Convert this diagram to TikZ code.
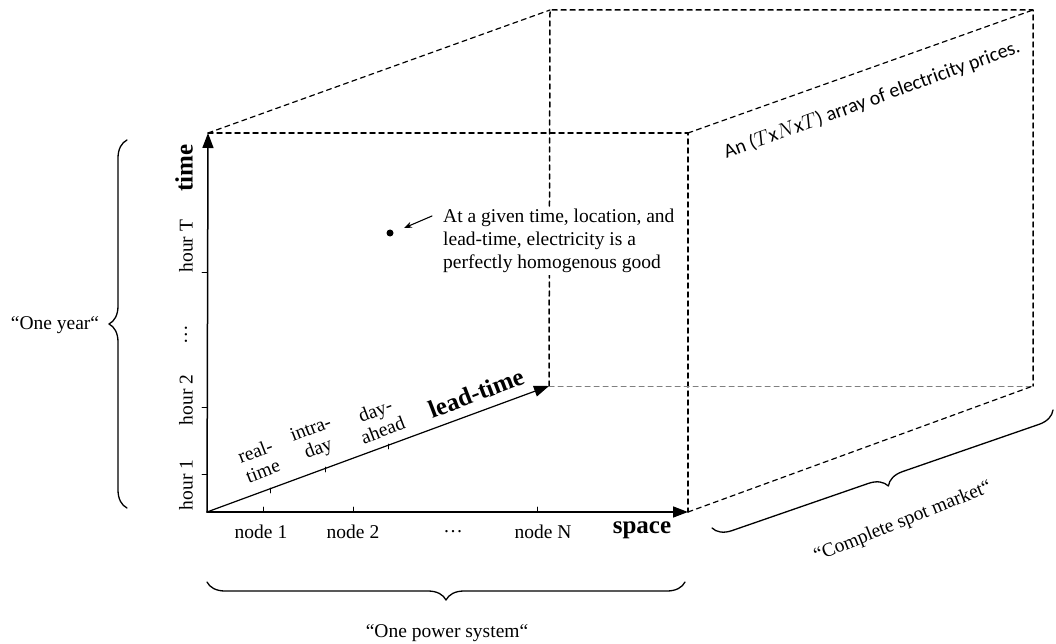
\documentclass[tikz,border=0pt]{standalone}
\usepackage{fontspec}
\setmainfont{Liberation Serif}
\newfontfamily\calib{Carlito}
\usetikzlibrary{arrows.meta}
\usetikzlibrary{decorations.pathreplacing}

\begin{document}
\begin{tikzpicture}[line cap=round,line join=round,>={Triangle[length=15pt,width=11pt]},x=1pt,y=-1pt,
  axis/.style={->,line width=1.5pt},
  cubeedge/.style={line width=1.5pt,dash pattern=on 5pt off 4pt},
  tick/.style={line width=0.8pt},
  lbl/.style={font=\fontsize{19.5}{23}\selectfont},
  bold/.style={font=\fontsize{25}{28}\selectfont\bfseries},
  curly/.style={decorate,decoration={brace,amplitude=18pt},line width=1.3pt}]
\useasboundingbox (0,0) rectangle (1056,644);
% corners of the cube
\coordinate (O) at (207,512);
\coordinate (T) at (208,133);
\coordinate (S) at (688,512);
\coordinate (L) at (549,386);
\coordinate (F) at (688,133);
\coordinate (BTL) at (550,10);
\coordinate (BTR) at (1033,10);
\coordinate (BBR) at (1033,386);
\draw [cubeedge] (T)--(F)--(S);
\draw [cubeedge] (L)--(BTL)--(BTR)--(BBR);
\draw [cubeedge,line width=1pt,gray] (L)--(BBR);
\draw [cubeedge,line width=1.2pt] (T)--(BTL);
\draw [cubeedge,line width=1.2pt] (F)--(BTR);
\draw [cubeedge,line width=1.2pt] (S)--(BBR);
% axes
\draw [axis] (O)--(T);
\draw [axis] (O)--(S);
\draw [axis,line width=1.2pt] (O)--(L);
% ticks
\foreach \y in {474,407,272} \draw [tick] (207,\y)--(202,\y);
\foreach \x in {263,353,537} \draw [tick] (\x,512)--(\x,507);
\draw [tick] (270,488)--(270,493);
\draw [tick] (325,467)--(325,472);
\draw [tick] (388,444)--(388,449);
% time labels
\node[lbl,rotate=90] (h1) at (186,485) {hour 1};
\node[lbl,rotate=90] (h2) at (186,400) {hour 2};
\node[lbl,rotate=90] (hd) at (186,335) {\dots};
\node[lbl,rotate=90] (hT) at (186,246) {hour T};
\node[bold,rotate=90] (time) at (184,168) {time};
% space labels
\node[lbl] (n1) at (261,532) {node 1};
\node[lbl] (n2) at (353,532) {node 2};
\node[lbl] (nd) at (453,532) {\dots};
\node[lbl] (nN) at (543,532) {node N};
\node[bold] (space) at (642,530) {space};
% lead-time labels
\node[lbl,rotate=21,align=center,font=\fontsize{19.5}{21}\selectfont] (rt) at (259,461) {real-\\time};
\node[lbl,rotate=21,align=center,font=\fontsize{19.5}{21}\selectfont] (id) at (315,440) {intra-\\day};
\node[lbl,rotate=21,align=center,font=\fontsize{19.5}{21}\selectfont] (da) at (379,420) {day-\\ahead};
\node[bold,rotate=21] (lead) at (476,393) {lead-time};
% the good
\fill (390,233) circle (3.5);
\coordinate (dot) at (404,228);
\node[lbl,anchor=west,align=left,fill=white,inner sep=2pt] (good) at (441,241) {At a given time, location, and\\lead-time, electricity is a\\perfectly homogenous good};
\coordinate (pt) at (432,216);
\draw [-{Stealth[length=8pt,width=6pt]},line width=1.1pt] (pt)--(dot);
% array text
\node[rotate=20,font=\calib\fontsize{20}{22}\selectfont] (arr) at (872,100) {An ($T$x$N$x$T$) array of electricity prices.};
% braces
\draw [curly] (127,508)--(127,140);
\node[lbl] (year) at (55,325) {“One year“};
\draw [curly] (685,582)--(207,582);
\node[lbl] (sys) at (447,633) {“One power system“};
\draw [curly] (1053,410)--(712,528);
\node[lbl,rotate=22] (spot) at (903,522) {“Complete spot market“};
\end{tikzpicture}
\end{document}
